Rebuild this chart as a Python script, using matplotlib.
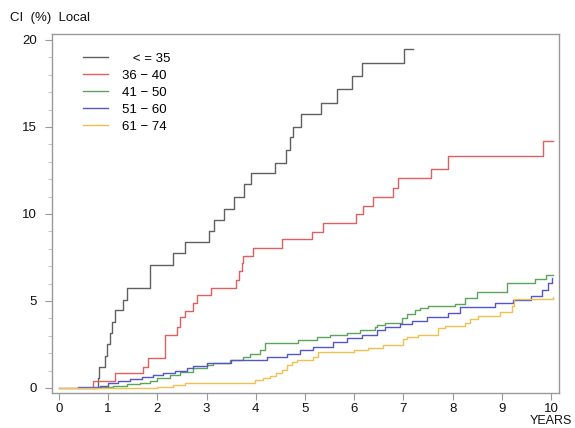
import matplotlib.pyplot as plt
from matplotlib.ticker import MultipleLocator

plt.rcParams['font.family'] = ['Liberation Sans', 'DejaVu Sans']

# step curves: event times (years) and cumulative incidence (%) after each event
t_le35 = [0.0, 0.79, 0.82, 0.93, 0.98, 1.04, 1.08, 1.14, 1.30, 1.38, 1.85, 2.32, 2.57,
          3.05, 3.15, 3.35, 3.56, 3.76, 3.90, 4.39, 4.61, 4.70, 4.76, 4.92, 5.33,
          5.65, 5.95, 6.16, 7.01, 7.20]
ci_le35 = [0.0, 0.57, 1.2, 1.84, 2.5, 3.16, 3.8, 4.5, 5.06, 5.75, 7.07, 7.76, 8.4,
           9.0, 9.65, 10.3, 11.0, 11.7, 12.35, 12.95, 13.65, 14.4, 15.0, 15.75, 16.4,
           17.2, 17.9, 18.7, 19.5, 19.5]

t_36_40 = [0.69, 0.69, 1.14, 1.71, 1.81, 2.15, 2.40, 2.46, 2.56, 2.73, 2.80, 3.09,
           3.60, 3.66, 3.72, 3.74, 3.95, 4.53, 5.14, 5.37, 6.04, 6.18, 6.38, 6.79,
           6.90, 7.56, 7.90, 9.84, 10.04]
ci_36_40 = [0.0, 0.4, 0.86, 1.2, 1.72, 3.05, 3.5, 4.1, 4.4, 4.9, 5.35, 5.75,
            6.2, 6.7, 7.2, 7.6, 8.05, 8.56, 8.97, 9.5, 10.0, 10.46, 11.0, 11.5,
            12.07, 12.6, 13.3, 14.2, 14.2]

t_41_50 = [0.80, 1.10, 1.38, 1.65, 1.85, 1.99, 2.26, 2.46, 2.73, 3.00, 3.13, 3.48,
           3.74, 3.88, 4.09, 4.19, 4.86, 5.24, 5.51, 5.85, 6.12, 6.42, 6.46, 6.63,
           6.97, 7.07, 7.24, 7.34, 7.50, 8.05, 8.25, 8.50, 9.10, 9.67, 9.90, 10.04]
ci_41_50 = [0.05, 0.12, 0.23, 0.3, 0.4, 0.56, 0.75, 0.94, 1.13, 1.32, 1.45, 1.6,
            1.76, 1.95, 2.18, 2.6, 2.75, 2.9, 3.03, 3.18, 3.33, 3.5, 3.6, 3.75,
            4.0, 4.25, 4.48, 4.6, 4.7, 4.83, 5.17, 5.5, 6.03, 6.26, 6.5, 6.5]

t_51_60 = [0.39, 0.83, 1.00, 1.20, 1.44, 1.69, 1.91, 2.11, 2.36, 2.60, 2.73, 3.00,
           3.50, 4.22, 4.63, 4.90, 5.17, 5.57, 5.85, 6.16, 6.46, 6.63, 6.93, 7.17,
           7.48, 7.90, 8.15, 8.86, 9.23, 9.60, 9.82, 9.94, 10.02]
ci_51_60 = [0.05, 0.12, 0.28, 0.4, 0.5, 0.62, 0.75, 0.87, 1.0, 1.13, 1.26, 1.42,
            1.6, 1.76, 1.95, 2.18, 2.36, 2.65, 2.85, 3.03, 3.33, 3.5, 3.68, 3.85,
            4.08, 4.3, 4.65, 4.88, 5.06, 5.3, 5.63, 6.03, 6.3]

t_61_74 = [0.0, 1.99, 2.32, 2.56, 3.98, 4.15, 4.29, 4.42, 4.53, 4.63, 4.74, 4.84,
           5.17, 5.27, 6.00, 6.28, 6.58, 7.00, 7.07, 7.30, 7.70, 7.85, 8.25, 8.35,
           8.52, 8.96, 9.20, 9.25, 10.04]
ci_61_74 = [0.0, 0.08, 0.17, 0.3, 0.46, 0.56, 0.7, 0.85, 1.03, 1.3, 1.5, 1.6,
            1.8, 2.07, 2.18, 2.3, 2.47, 2.8, 2.93, 3.05, 3.45, 3.56, 3.75, 3.95,
            4.14, 4.37, 4.7, 5.1, 5.23]

labels = ['   < = 35', '36 \u2212 40', '41 \u2212 50', '51 \u2212 60', '61 \u2212 74']
colors = ['#606060', '#e06060', '#5aa55a', '#5555c8', '#f0c050']
series = [(t_le35, ci_le35), (t_36_40, ci_36_40), (t_41_50, ci_41_50),
          (t_51_60, ci_51_60), (t_61_74, ci_61_74)]

fig = plt.figure(figsize=(5.75, 4.28), dpi=100)
ax = fig.add_axes([0.0904, 0.0818, 0.8816, 0.8388])

for (t, ci), lab, col in zip(series, labels, colors):
    ax.step(t, ci, where='post', color=col, lw=1.0, label=lab)

ax.set_xlim(-0.14, 10.16)
ax.set_ylim(-0.29, 20.34)
ax.set_xticks(range(0, 11))
ax.set_yticks([0, 5, 10, 15, 20])
ax.yaxis.set_minor_locator(MultipleLocator(1))

for s in ax.spines.values():
    s.set_color('#999999')
    s.set_linewidth(1.0)
ax.tick_params(axis='both', which='major', direction='out', length=5,
               color='#999999', labelsize=9.5, labelcolor='#111111')
ax.tick_params(axis='y', which='minor', direction='out', length=3, color='#bbbbbb')
ax.tick_params(axis='x', pad=2.5)
ax.tick_params(axis='y', pad=6)

fig.text(10 / 575, 1 - 18 / 428, 'CI  (%)  Local', fontsize=9.5, va='center', ha='left',
         color='#111111')
fig.text(551 / 575, 1 - 427.5 / 428, 'YEARS', fontsize=9, va='bottom', ha='center',
         color='#111111')

leg = ax.legend(loc='upper left', bbox_to_anchor=(0.061, 0.948), frameon=False,
                borderaxespad=0, borderpad=0,
                handlelength=1.9, handletextpad=1.05, labelspacing=0.36, fontsize=9.5)
for line in leg.get_lines():
    line.set_linewidth(1.0)

fig.savefig('out.png', dpi=100)
